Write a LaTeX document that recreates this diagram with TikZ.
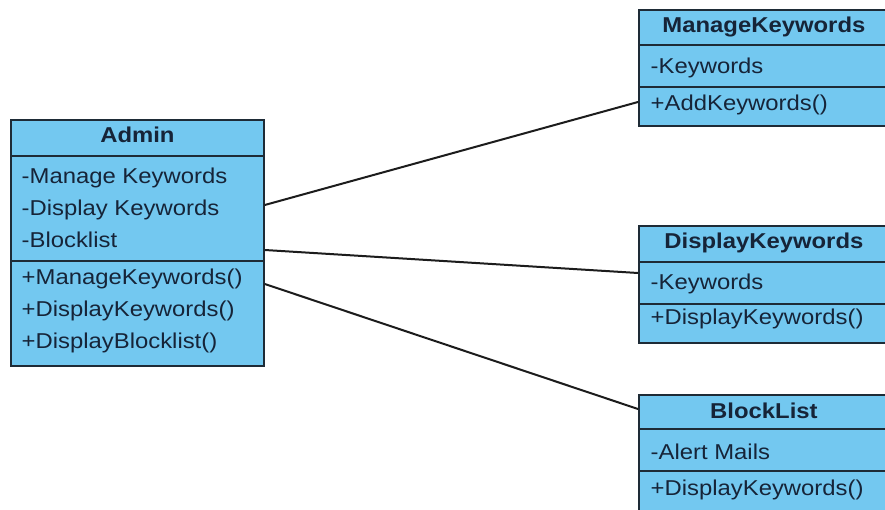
\documentclass[tikz,border=0pt]{standalone}
\usepackage{fontspec}
\setmainfont{Liberation Sans}[FakeStretch=1.11]
\definecolor{classfill}{RGB}{115,200,240}
\definecolor{classline}{RGB}{30,43,54}
\definecolor{classtext}{RGB}{22,36,56}
\definecolor{linkline}{RGB}{28,28,28}
\begin{document}
\begin{tikzpicture}[x=1pt,y=-1pt,
  classbox/.style={draw=classline,fill=classfill,line width=1.8pt,inner sep=0pt,
    anchor=north west,rectangle},
  divider/.style={draw=classline,line width=1.8pt},
  member/.style={anchor=base west,inner sep=0pt,text=classtext,
    font=\fontsize{21.5}{26}\selectfont},
  title/.style={anchor=base,inner sep=0pt,text=classtext,
    font=\fontsize{21.5}{26}\selectfont\bfseries},
  link/.style={draw=linkline,line width=2pt}]
\useasboundingbox (0,0) rectangle (885,510);
\fill[white] (0,0) rectangle (885,510);

% Admin class
\node[classbox,minimum width=253pt,minimum height=246pt] (admin) at (10,119) {};
\draw[divider] ([yshift=-37pt]admin.north west) -- ([yshift=-37pt]admin.north east);
\draw[divider] ([yshift=-142pt]admin.north west) -- ([yshift=-142pt]admin.north east);
\node[title] (adminT) at ([yshift=-24pt]admin.north) {Admin};
\node[member] (adminA1) at ([xshift=11.5pt,yshift=-65pt]admin.north west) {-Manage Keywords};
\node[member] (adminA2) at ([xshift=11.5pt,yshift=-97pt]admin.north west) {-Display Keywords};
\node[member] (adminA3) at ([xshift=11.5pt,yshift=-129pt]admin.north west) {-Blocklist};
\node[member] (adminM1) at ([xshift=11.5pt,yshift=-166pt]admin.north west) {+ManageKeywords()};
\node[member] (adminM2) at ([xshift=11.5pt,yshift=-197.5pt]admin.north west) {+DisplayKeywords()};
\node[member] (adminM3) at ([xshift=11.5pt,yshift=-229pt]admin.north west) {+DisplayBlocklist()};

% ManageKeywords class
\node[classbox,minimum width=250pt,minimum height=116pt] (mk) at (638,9) {};
\draw[divider] ([yshift=-36pt]mk.north west) -- ([yshift=-36pt]mk.north east);
\draw[divider] ([yshift=-78pt]mk.north west) -- ([yshift=-78pt]mk.north east);
\node[title] (mkT) at ([yshift=-24pt]mk.north) {ManageKeywords};
\node[member] (mkA1) at ([xshift=12.5pt,yshift=-65pt]mk.north west) {-Keywords};
\node[member] (mkM1) at ([xshift=12.5pt,yshift=-102pt]mk.north west) {+AddKeywords()};

% DisplayKeywords class
\node[classbox,minimum width=250pt,minimum height=117pt] (dk) at (638,225) {};
\draw[divider] ([yshift=-37pt]dk.north west) -- ([yshift=-37pt]dk.north east);
\draw[divider] ([yshift=-79pt]dk.north west) -- ([yshift=-79pt]dk.north east);
\node[title] (dkT) at ([yshift=-24pt]dk.north) {DisplayKeywords};
\node[member] (dkA1) at ([xshift=12.5pt,yshift=-65pt]dk.north west) {-Keywords};
\node[member] (dkM1) at ([xshift=12.5pt,yshift=-99pt]dk.north west) {+DisplayKeywords()};

% BlockList class
\node[classbox,minimum width=250pt,minimum height=116pt] (bl) at (638,394) {};
\draw[divider] ([yshift=-35pt]bl.north west) -- ([yshift=-35pt]bl.north east);
\draw[divider] ([yshift=-77pt]bl.north west) -- ([yshift=-77pt]bl.north east);
\node[title] (blT) at ([yshift=-24pt]bl.north) {BlockList};
\node[member] (blA1) at ([xshift=12.5pt,yshift=-65pt]bl.north west) {-Alert Mails};
\node[member] (blM1) at ([xshift=12.5pt,yshift=-101pt]bl.north west) {+DisplayKeywords()};

% Associations
\draw[link] ([yshift=-86pt]admin.north east) -- ([yshift=-93pt]mk.north west);
\draw[link] ([yshift=-131pt]admin.north east) -- ([yshift=-48pt]dk.north west);
\draw[link] ([yshift=-165pt]admin.north east) -- ([yshift=-15pt]bl.north west);
\end{tikzpicture}
\end{document}
